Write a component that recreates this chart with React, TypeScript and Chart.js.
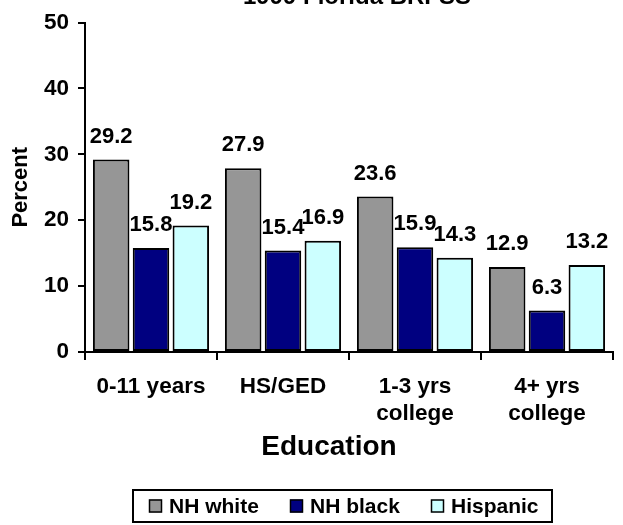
import React, { useEffect, useRef } from "react";
import { Chart, registerables } from "chart.js";

Chart.register(...registerables);

const TITLE = "1999 Florida BRFSS";
const categories: (string | string[])[] = ["0-11 years", "HS/GED", ["1-3 yrs", "college"], ["4+ yrs", "college"]];
const seriesNames = ["NH white", "NH black", "Hispanic"];
const nhWhite = [29.2, 27.9, 23.6, 12.9];
const nhBlack = [15.8, 15.4, 15.9, 6.3];
const hispanic = [19.2, 16.9, 14.3, 13.2];
const seriesColors = ["#969696", "#000080", "#CCFFFF"];
const yTicks = [0, 10, 20, 30, 40, 50];
const yTitle = "Percent";
const xTitle = "Education";

const FONT = "'Liberation Sans', Arial, sans-serif";

const decorPlugin = {
  id: "decor",
  afterDatasetsDraw(chart: any) {
    const ctx = chart.ctx;
    ctx.save();
    ctx.fillStyle = "#000";
    ctx.font = `bold 22px ${FONT}`;
    ctx.textAlign = "center";
    ctx.textBaseline = "bottom";
    chart.data.datasets.forEach((ds: any, i: number) => {
      const meta = chart.getDatasetMeta(i);
      meta.data.forEach((el: any, j: number) => {
        ctx.fillText(Number(ds.data[j]).toFixed(1), el.x, el.y - 12);
      });
    });
    ctx.restore();
  },
  afterDraw(chart: any) {
    const ctx = chart.ctx;
    const area = chart.chartArea;
    ctx.save();
    ctx.fillStyle = "#000";
    // Title (partially cut at top)
    ctx.font = `bold 24px ${FONT}`;
    ctx.textAlign = "center";
    ctx.textBaseline = "alphabetic";
    ctx.fillText(TITLE, 357, 4);
    // Y title
    ctx.save();
    ctx.translate(21, (area.top + area.bottom) / 2);
    ctx.rotate(-Math.PI / 2);
    ctx.font = `bold 22px ${FONT}`;
    ctx.textBaseline = "middle";
    ctx.fillText(yTitle, 0, 0);
    ctx.restore();
    // X title
    ctx.font = `bold 28px ${FONT}`;
    ctx.textAlign = "center";
    ctx.textBaseline = "middle";
    ctx.fillText(xTitle, 329, 447);
    // Legend
    const bx = 133, by = 490, bw = 419, bh = 32;
    ctx.lineWidth = 2;
    ctx.strokeStyle = "#000";
    ctx.strokeRect(bx, by, bw, bh);
    const sqX = [149, 290, 431];
    ctx.font = `bold 21px ${FONT}`;
    ctx.textAlign = "left";
    ctx.textBaseline = "middle";
    chart.data.datasets.forEach((ds: any, i: number) => {
      const sx = sqX[i];
      const cy = by + bh / 2;
      ctx.fillStyle = ds.backgroundColor;
      ctx.fillRect(sx, cy - 6.5, 13, 13);
      ctx.lineWidth = 1.5;
      ctx.strokeRect(sx + 0.5, cy - 6, 12, 12);
      ctx.fillStyle = "#000";
      ctx.fillText(ds.label, sx + 20, cy + 1);
    });
    ctx.restore();
  },
};

export default function App() {
  const ref = useRef<HTMLCanvasElement | null>(null);
  useEffect(() => {
    if (!ref.current) return;
    const seriesData = [nhWhite, nhBlack, hispanic];
    const chart = new Chart(ref.current, {
      type: "bar",
      data: {
        labels: categories,
        datasets: seriesNames.map((name, i) => ({
          label: name,
          data: seriesData[i],
          backgroundColor: seriesColors[i],
          borderColor: "#000",
          borderWidth: 2,
          borderSkipped: false,
          categoryPercentage: 0.905,
          barPercentage: 0.917,
        })),
      },
      options: {
        responsive: false,
        animation: false,
        devicePixelRatio: 1,
        layout: { padding: { top: 22, right: 10, left: 0, bottom: 0 } },
        plugins: {
          legend: { display: false },
          title: { display: false },
          tooltip: { enabled: false },
        },
        scales: {
          x: {
            grid: {
              offset: true,
              drawOnChartArea: false,
              drawTicks: true,
              tickLength: 8,
              color: "#000",
              lineWidth: 2,
            },
            border: { display: true, color: "#000", width: 2 },
            ticks: {
              color: "#000",
              font: { family: FONT, size: 22.5, weight: "bold" },
              padding: 13,
              maxRotation: 0,
              autoSkip: false,
            },
            afterFit: (s: any) => {
              s.height = 173;
            },
          },
          y: {
            min: 0,
            max: 50,
            afterBuildTicks: (s: any) => {
              s.ticks = yTicks.map((v) => ({ value: v }));
            },
            grid: {
              drawOnChartArea: false,
              drawTicks: true,
              tickLength: 7,
              color: "#000",
              lineWidth: 2,
            },
            border: { display: true, color: "#000", width: 2 },
            ticks: {
              color: "#000",
              font: { family: FONT, size: 22.5, weight: "bold" },
              padding: 9,
            },
            afterFit: (s: any) => {
              s.width = 85;
            },
          },
        },
      },
      plugins: [decorPlugin],
    });
    return () => chart.destroy();
  }, []);
  return (
    <div style={{ position: "absolute", left: 0, top: 0, width: 623, height: 525 }}>
      <canvas ref={ref} width={623} height={525} style={{ width: 623, height: 525 }} />
    </div>
  );
}
